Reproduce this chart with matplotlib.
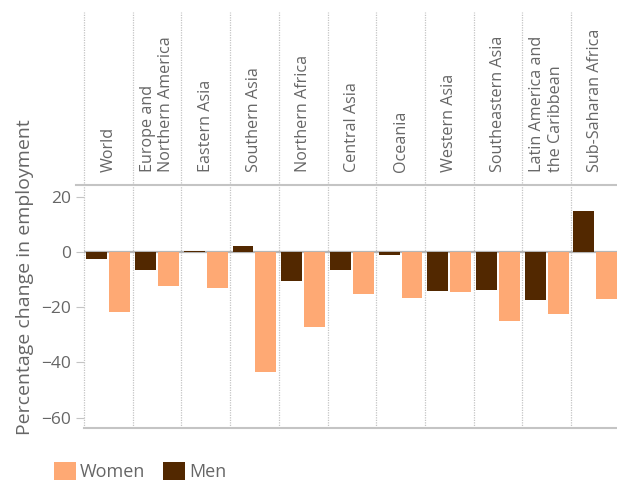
import numpy as np
import matplotlib.pyplot as plt
from matplotlib.lines import Line2D

plt.rcParams['font.family'] = ['Open Sans', 'DejaVu Sans']

regions = ['World', 'Europe and\nNorthern America', 'Eastern Asia', 'Southern Asia',
           'Northern Africa', 'Central Asia', 'Oceania', 'Western Asia',
           'Southeastern Asia', 'Latin America and\nthe Caribbean', 'Sub-Saharan Africa']
men = [-2.4, -6.7, 0.5, 2.2, -10.7, -6.5, -1.0, -14.3, -13.9, -17.5, 14.7]
women = [-21.8, -12.5, -13.2, -43.4, -27.2, -15.4, -16.8, -14.6, -25.1, -22.6, -17.2]
yticks = [20, 0, -20, -40, -60]

WOMEN_C = '#fea974'
MEN_C = '#522800'
GRID_C = '#c4c4c4'
TEXT_C = '#666666'

W, H = 617, 490
fig = plt.figure(figsize=(W / 100, H / 100), dpi=100)
left, bottom, top = 84, 428.3, 184.7
ax = fig.add_axes([left / W, 1 - bottom / H, 1 - left / W, (bottom - top) / H])

x = np.arange(len(regions)) + 0.5
bw = 0.43
b_men = ax.bar(x - 0.235, men, bw, color=MEN_C, label='Men', zorder=3)
b_women = ax.bar(x + 0.235, women, bw, color=WOMEN_C, label='Women', zorder=3)

ax.set_xlim(0, (W - left) / 48.7)
ax.set_ylim(-63.8, 24.3)
ax.axhline(0, color='#b5b5b5', lw=1.6, zorder=2)

# panel separators, running up through the header area
top_ext = (bottom - 12) / (bottom - top)
for i in range(len(regions) + 1):
    ax.plot([i, i], [0, top_ext], transform=ax.get_xaxis_transform(), color=GRID_C,
            lw=0.9, ls=(0, (1, 1)), clip_on=False, zorder=1)

for xi, name in zip(x, regions):
    ax.text(xi, 1.052, name, transform=ax.get_xaxis_transform(), rotation=90,
            ha='center', va='bottom', multialignment='left', fontsize=11.6, color=TEXT_C)

fig.add_artist(Line2D([76 / W, 1], [1 - top / H] * 2, color=GRID_C, lw=1.5))

for s in ['left', 'right', 'top']:
    ax.spines[s].set_visible(False)
ax.spines['bottom'].set_color(GRID_C)
ax.spines['bottom'].set_linewidth(1.5)
ax.set_xticks([])
ax.set_yticks(yticks)
ax.tick_params(axis='y', length=6, color=GRID_C, labelsize=12.5, labelcolor=TEXT_C, pad=3)
fig.text(25 / W, 1 - 277 / H, 'Percentage change in employment', rotation=90,
         ha='center', va='center', fontsize=14, color=TEXT_C)

fig.legend(handles=[b_women, b_men], loc='lower left', bbox_to_anchor=(45 / W, 0.0),
           ncol=2, frameon=False, fontsize=13, handlelength=1.22, handleheight=1.22,
           handletextpad=0.22, columnspacing=1.0, borderpad=0, labelcolor=TEXT_C)

fig.savefig('out.png', dpi=100)
